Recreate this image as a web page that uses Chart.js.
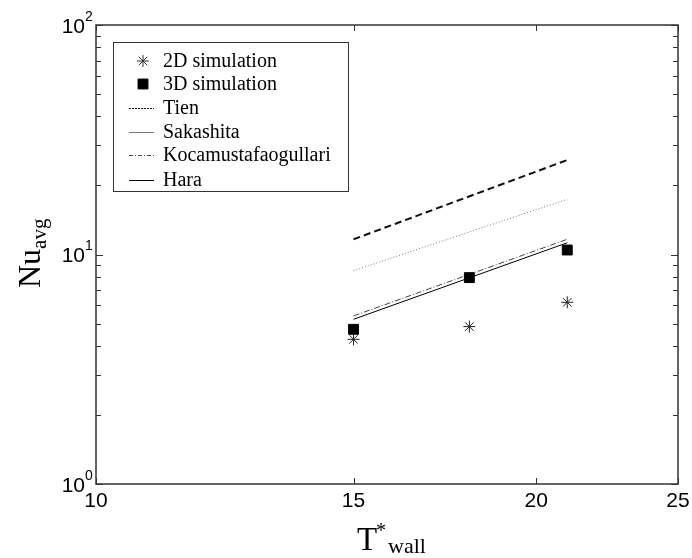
<!DOCTYPE html>
<html>
<head>
<meta charset="utf-8">
<script src="https://cdn.jsdelivr.net/npm/chart.js@4.4.0/dist/chart.umd.min.js"></script>
<style>
  html, body { margin: 0; padding: 0; background: #fff; }
  #wrap { width: 692px; height: 558px; }
</style>
</head>
<body>
<div id="wrap"><canvas id="chart"></canvas></div>
<script>
// values
const simT = [15, 18, 21]
const nu2D = [4.27, 4.85, 6.19]
const nu3D = [4.72, 7.93, 10.46]
const corrT = [15, 21]
const tien = [11.65, 25.8]
const sakashita = [8.5, 17.4]
const kocamustafaogullari = [5.4, 11.65]
const hara = [5.22, 11.25]

const xTicks = [10, 15, 20, 25]
const yDecades = [0, 1, 2]

const pts = (xs, ys) => xs.map((x, i) => ({ x: x, y: ys[i] }))

const serif = '"Liberation Serif", "DejaVu Serif", serif'
const sans = '"Liberation Sans", Arial, sans-serif'

const framePlugin = {
  id: 'frame',
  afterDraw(chart) {
    const ctx = chart.ctx
    const { left, right, top, bottom } = chart.chartArea
    const xs = chart.scales.x
    const ys = chart.scales.y
    ctx.save()

    // box
    ctx.strokeStyle = '#333'
    ctx.lineWidth = 1.5
    ctx.strokeRect(left, top, right - left, bottom - top)

    // y ticks, both sides, inward
    ctx.lineWidth = 1
    for (let d = 0; d < 2; d++) {
      for (let m = 1; m <= 10; m++) {
        const v = m * Math.pow(10, d)
        const py = Math.round(ys.getPixelForValue(v)) + 0.5
        const len = (m === 1 || m === 10) ? 7 : 5
        ctx.beginPath()
        ctx.moveTo(left, py); ctx.lineTo(left + len, py)
        ctx.moveTo(right, py); ctx.lineTo(right - len, py)
        ctx.stroke()
      }
    }
    // x ticks
    xTicks.forEach((t) => {
      const px = Math.round(xs.getPixelForValue(t)) + 0.5
      ctx.beginPath()
      ctx.moveTo(px, bottom); ctx.lineTo(px, bottom - 6)
      ctx.moveTo(px, top); ctx.lineTo(px, top + 6)
      ctx.stroke()
    })

    // x tick labels
    ctx.fillStyle = '#000'
    ctx.font = '21px ' + sans
    ctx.textAlign = 'center'
    ctx.textBaseline = 'top'
    xTicks.forEach((t) => {
      ctx.fillText(String(t), xs.getPixelForValue(t), bottom + 7)
    })

    // y tick labels 10^n
    yDecades.forEach((d) => {
      const py = ys.getPixelForValue(Math.pow(10, d))
      ctx.font = '21px ' + sans
      ctx.textAlign = 'right'
      ctx.textBaseline = 'middle'
      ctx.fillText('10', left - 11, py + 2)
      ctx.font = '14px ' + sans
      ctx.textAlign = 'left'
      ctx.fillText(String(d), left - 11, py - 8)
    })

    // axis titles
    ctx.textBaseline = 'alphabetic'
    ctx.textAlign = 'left'
    ctx.font = '33px ' + serif
    ctx.fillText('T', 357, 550)
    ctx.font = '20px ' + serif
    ctx.fillText('*', 376, 537)
    ctx.font = '22px ' + serif
    ctx.fillText('wall', 388, 553)

    ctx.save()
    ctx.translate(40, 288)
    ctx.rotate(-Math.PI / 2)
    ctx.font = '32px ' + serif
    ctx.fillText('Nu', 0, 0)
    const w = ctx.measureText('Nu').width
    ctx.font = '21px ' + serif
    ctx.fillText('avg', w, 6)
    ctx.restore()

    // legend
    const lx = 113, ly = 42, lw = 235, lh = 149
    ctx.fillStyle = '#fff'
    ctx.fillRect(lx, ly, lw, lh)
    ctx.strokeStyle = '#333'
    ctx.lineWidth = 1
    ctx.strokeRect(lx + 0.5, ly + 0.5, lw, lh)
    const rowY = [61, 84, 108, 132, 155, 180]
    chart.data.datasets.forEach((ds, i) => {
      const y = rowY[i]
      if (ds.showLine) {
        ctx.save()
        ctx.strokeStyle = ds.borderColor
        ctx.lineWidth = Math.min(ds.borderWidth, 1)
        ctx.setLineDash(ds.legendDash || [])
        ctx.beginPath()
        ctx.moveTo(129, y + 0.5); ctx.lineTo(154, y + 0.5)
        ctx.stroke()
        ctx.restore()
      } else {
        Chart.helpers.drawPoint(ctx, {
          pointStyle: ds.pointStyle,
          radius: ds.pointRadius,
          borderWidth: ds.pointBorderWidth || 1
        }, 143, y)
        ctx.fillStyle = '#000'
        ctx.strokeStyle = '#000'
      }
      ctx.fillStyle = '#000'
      ctx.font = '20px ' + serif
      ctx.textAlign = 'left'
      ctx.textBaseline = 'middle'
      ctx.fillText(ds.label, 163, y + 1)
    })
    ctx.restore()
  }
}

new Chart(document.getElementById('chart'), {
  type: 'scatter',
  data: {
    datasets: [
      {
        label: '2D simulation',
        data: pts(simT, nu2D),
        pointStyle: 'star',
        pointRadius: 6,
        pointBorderWidth: 1,
        borderColor: '#222',
        backgroundColor: '#222',
        showLine: false,
      },
      {
        label: '3D simulation',
        data: pts(simT, nu3D),
        pointStyle: 'rect',
        pointRadius: 7,
        borderColor: '#000',
        backgroundColor: '#000',
        showLine: false,
      },
      {
        label: 'Tien',
        data: pts(corrT, tien),
        showLine: true,
        pointRadius: 0,
        borderColor: '#111',
        borderWidth: 2,
        borderDash: [7, 4],
        legendDash: [2, 1],
      },
      {
        label: 'Sakashita',
        data: pts(corrT, sakashita),
        showLine: true,
        pointRadius: 0,
        borderColor: '#777',
        borderWidth: 1,
        borderDash: [1, 2],
        legendDash: [],
      },
      {
        label: 'Kocamustafaogullari',
        data: pts(corrT, kocamustafaogullari),
        showLine: true,
        pointRadius: 0,
        borderColor: '#444',
        borderWidth: 1,
        borderDash: [6, 2, 1, 2],
        legendDash: [4, 2, 1, 2],
      },
      {
        label: 'Hara',
        data: pts(corrT, hara),
        showLine: true,
        pointRadius: 0,
        borderColor: '#000',
        borderWidth: 1,
        borderDash: [],
        legendDash: [],
      },
    ],
  },
  options: {
    responsive: true,
    maintainAspectRatio: false,
    animation: false,
    layout: { padding: { left: 96, right: 14, top: 25, bottom: 74 } },
    plugins: { legend: { display: false }, tooltip: { enabled: false } },
    scales: {
      x: { type: 'logarithmic', min: 10, max: 25, display: false },
      y: { type: 'logarithmic', min: 1, max: 100, display: false },
    },
  },
  plugins: [framePlugin],
})
</script>
</body>
</html>
